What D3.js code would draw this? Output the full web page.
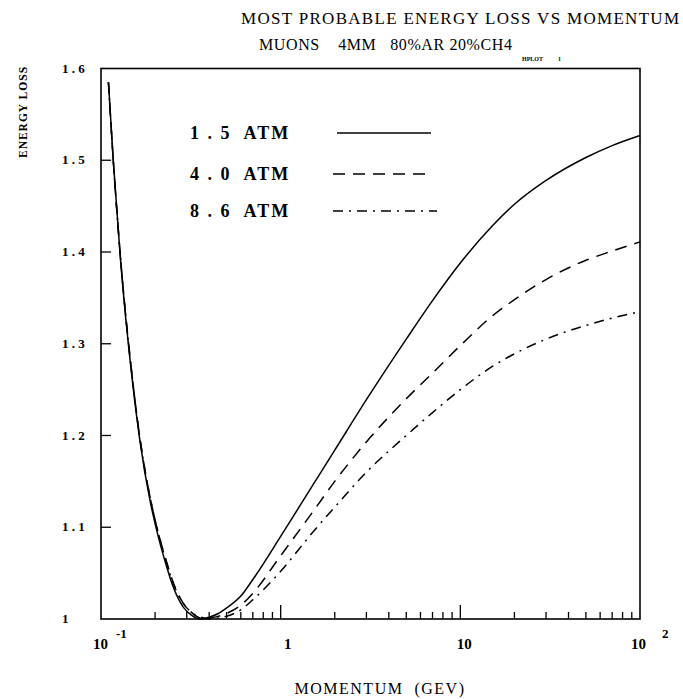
<!DOCTYPE html>
<html>
<head>
<meta charset="utf-8">
<script src="https://cdn.jsdelivr.net/npm/d3@7"></script>
<style>
body { margin: 0; background: #fff; }
</style>
</head>
<body>
<script>
/* Data
***********************************************************************/
var momentum = [0.11, 0.117, 0.128, 0.15, 0.165, 0.187, 0.2, 0.232, 0.25, 0.287, 0.32, 0.36, 0.4, 0.45, 0.5, 0.6, 0.7, 1, 1.5, 2, 3, 5, 7, 10, 15, 20, 30, 50, 70, 100];
var atm15 = [1.585, 1.50, 1.395, 1.257, 1.193, 1.13, 1.104, 1.057, 1.037, 1.013, 1.004, 1.0, 1.002, 1.006, 1.012, 1.025, 1.043, 1.09, 1.145, 1.184, 1.239, 1.305, 1.347, 1.388, 1.428, 1.452, 1.478, 1.503, 1.516, 1.527];
var atm40 = [1.585, 1.50, 1.397, 1.26, 1.196, 1.134, 1.108, 1.062, 1.042, 1.017, 1.007, 1.001, 1.001, 1.003, 1.006, 1.015, 1.028, 1.069, 1.116, 1.150, 1.193, 1.240, 1.268, 1.298, 1.330, 1.348, 1.370, 1.391, 1.401, 1.411];
var atm86 = [1.585, 1.50, 1.397, 1.26, 1.196, 1.134, 1.108, 1.061, 1.041, 1.017, 1.007, 1.002, 1.0, 1.001, 1.003, 1.010, 1.021, 1.052, 1.094, 1.122, 1.160, 1.200, 1.225, 1.250, 1.275, 1.289, 1.305, 1.320, 1.328, 1.335];
var seriesNames = ["1 . 5  ATM", "4 . 0  ATM", "8 . 6  ATM"];
var yTicks = [1, 1.1, 1.2, 1.3, 1.4, 1.5, 1.6];
var yTickLabels = ["1", "1 . 1", "1 . 2", "1 . 3", "1 . 4", "1 . 5", "1 . 6"];

/* Setup SVG
***********************************************************************/
var svgW = 683;
var svgH = 699;
var pLeft = 101, pRight = 640, pTop = 68.5, pBottom = 619;

var svg = d3.select("body").append("svg")
	.attr("width", svgW)
	.attr("height", svgH)
	.style("font-family", "'Liberation Serif', serif");

var xScale = d3.scaleLog().domain([0.1, 100]).range([pLeft, pRight]);
var yScale = d3.scaleLinear().domain([1, 1.6]).range([pBottom, pTop]);

// dash styles for the three pressures
var dashes = [null, "12,8", "10,6,2,6"];
var series = [atm15, atm40, atm86];

/* Frame and ticks
***********************************************************************/
svg.append("rect")
	.attr("x", pLeft).attr("y", pTop)
	.attr("width", pRight - pLeft).attr("height", pBottom - pTop)
	.attr("fill", "none").attr("stroke", "#000").attr("stroke-width", 1.6);

// x ticks: 1 and 10 long, others short, drawn inside the frame
var xTickVals = [];
[0.1, 1, 10].forEach(function(dec) {
	for (var k = 2; k <= 10; k++) {
		if (dec * k < 100) xTickVals.push(dec * k);
	}
});
svg.append("g").selectAll("line")
	.data(xTickVals)
	.join("line")
	.attr("x1", function(d) { return xScale(d); })
	.attr("x2", function(d) { return xScale(d); })
	.attr("y1", pBottom)
	.attr("y2", function(d) { return (Math.abs(d - 1) < 1e-9 || Math.abs(d - 10) < 1e-9) ? pBottom - 14 : pBottom - 7; })
	.attr("stroke", "#000").attr("stroke-width", 1.3);

// y ticks
svg.append("g").selectAll("line")
	.data(yTicks.slice(1, 6))
	.join("line")
	.attr("x1", pLeft).attr("x2", pLeft + 10)
	.attr("y1", function(d) { return yScale(d); })
	.attr("y2", function(d) { return yScale(d); })
	.attr("stroke", "#000").attr("stroke-width", 1.3);

svg.append("g").selectAll("text")
	.data(yTicks)
	.join("text")
	.attr("x", 62)
	.attr("y", function(d) { return yScale(d) + 4; })
	.attr("font-size", 13).attr("font-weight", "bold")
	.style("white-space", "pre")
	.text(function(d, i) { return yTickLabels[i]; });

// x tick labels
var xl = svg.append("g").attr("font-size", 15).attr("font-weight", "bold");
xl.append("text").attr("x", 93).attr("y", 649).text("10");
xl.append("text").attr("x", 116).attr("y", 638).attr("font-size", 13).text("-1");
xl.append("text").attr("x", xScale(1) + 7).attr("y", 649).attr("text-anchor", "middle").text("1");
xl.append("text").attr("x", xScale(10) + 4).attr("y", 649).attr("text-anchor", "middle").text("10");
xl.append("text").attr("x", 631).attr("y", 649).text("10");
xl.append("text").attr("x", 662).attr("y", 638).attr("font-size", 13).text("2");

/* Titles
***********************************************************************/
svg.append("text").attr("x", 241).attr("y", 24)
	.attr("font-size", 17).attr("letter-spacing", 1.3)
	.text("MOST PROBABLE ENERGY LOSS VS MOMENTUM");
svg.append("text").attr("x", 259).attr("y", 50)
	.attr("font-size", 16).attr("letter-spacing", 0.6)
	.style("white-space", "pre")
	.text("MUONS    4MM   80%AR 20%CH4");
svg.append("text").attr("x", 522).attr("y", 61)
	.attr("font-size", 6).attr("font-weight", "bold")
	.style("white-space", "pre")
	.text("HPLOT          1");
svg.append("text").attr("x", 380).attr("y", 694)
	.attr("text-anchor", "middle")
	.attr("font-size", 16).attr("letter-spacing", 1.5)
	.style("white-space", "pre")
	.text("MOMENTUM  (GEV)");
svg.append("text")
	.attr("transform", "translate(27,112) rotate(-90)")
	.attr("text-anchor", "middle")
	.attr("font-size", 11.5).attr("font-weight", "bold").attr("letter-spacing", 1)
	.text("ENERGY LOSS");

/* Curves
***********************************************************************/
var line = d3.line()
	.x(function(d) { return xScale(d[0]); })
	.y(function(d) { return yScale(d[1]); })
	.curve(d3.curveMonotoneX);

series.forEach(function(vals, i) {
	var pts = momentum.map(function(p, j) { return [p, vals[j]]; });
	svg.append("path")
		.attr("d", line(pts))
		.attr("fill", "none")
		.attr("stroke", "#000")
		.attr("stroke-width", 1.5)
		.attr("stroke-dasharray", dashes[i]);
});

/* Legend
***********************************************************************/
var legY = [133, 174, 211];
var legX1 = [337, 333, 333], legX2 = [431, 426, 437];
seriesNames.forEach(function(name, i) {
	svg.append("text")
		.attr("x", 190).attr("y", legY[i] + 6)
		.attr("font-size", 18).attr("font-weight", "bold")
		.attr("letter-spacing", 2)
		.style("white-space", "pre")
		.text(name);
	svg.append("line")
		.attr("x1", legX1[i]).attr("x2", legX2[i])
		.attr("y1", legY[i]).attr("y2", legY[i])
		.attr("stroke", "#000").attr("stroke-width", 1.5)
		.attr("stroke-dasharray", dashes[i]);
});
</script>
</body>
</html>
